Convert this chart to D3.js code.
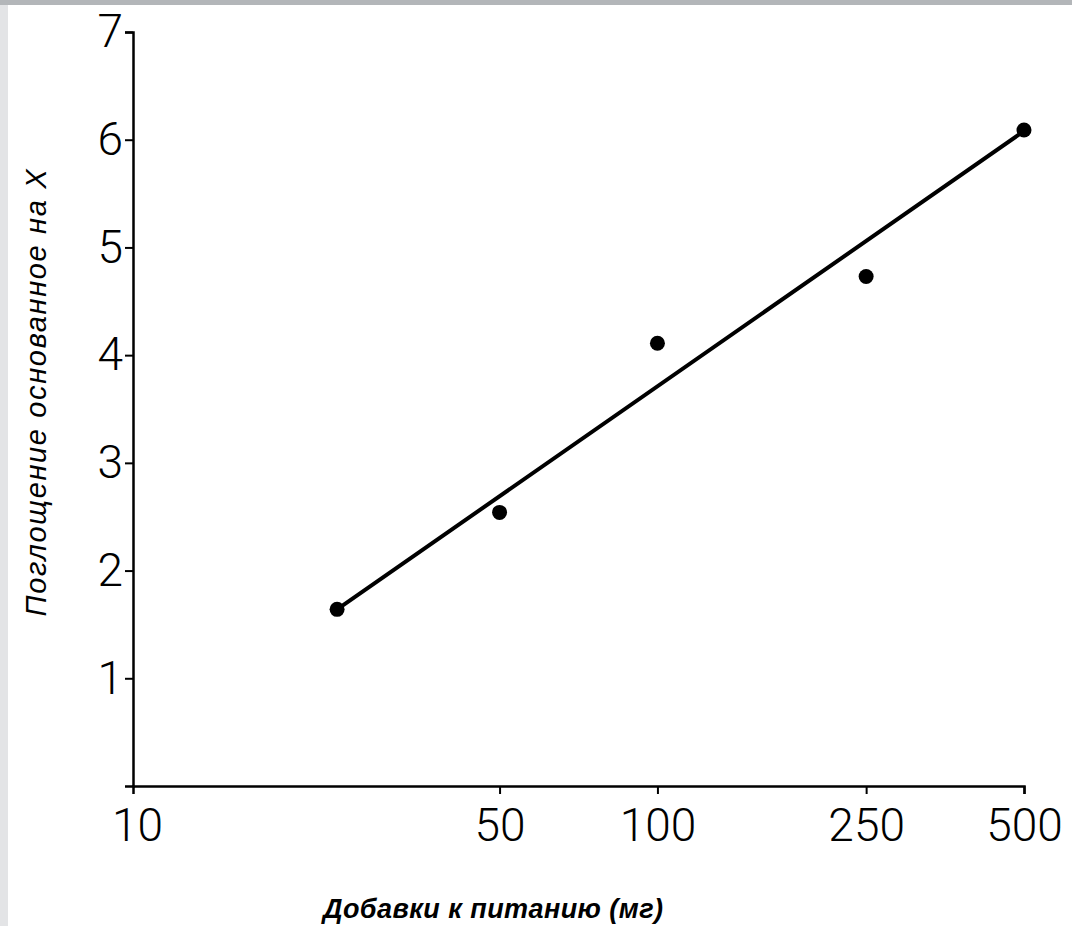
<!DOCTYPE html>
<html>
<head>
<meta charset="utf-8">
<script src="https://cdn.jsdelivr.net/npm/d3@7"></script>
<style>
  body { margin: 0; background: #fff; }
  .tick text { font-family: Roboto, "Liberation Sans", sans-serif; font-weight: 300; }
</style>
</head>
<body>
<script>
// data
const doseValues = [24.5, 50, 100, 250, 500];
const uptakeValues = [1.64, 2.54, 4.11, 4.73, 6.09];
const fitDose = [24.5, 500];
const fitUptake = [1.64, 6.08];
const xTickValues = [10, 50, 100, 250, 500];
const yTickValues = [1, 2, 3, 4, 5, 6, 7];

const width = 1072, height = 926;

const svg = d3.select("body").append("svg")
    .attr("width", width)
    .attr("height", height);

// scanned page edges
svg.append("rect").attr("x", 0).attr("y", 0).attr("width", 8).attr("height", height).attr("fill", "#e3e4e6");
svg.append("rect").attr("x", 0).attr("y", 0).attr("width", width).attr("height", 5).attr("fill", "#b3b6b9");

const x = d3.scaleLog().domain([10, 500]).range([133, 1024]);
const y = d3.scaleLinear().domain([0, 7]).range([786, 32]);

// x axis
const xAxis = svg.append("g")
    .attr("transform", "translate(0," + y(0) + ")")
    .call(d3.axisBottom(x)
        .tickValues(xTickValues)
        .tickFormat(d3.format("d"))
        .tickSizeOuter(0)
        .tickSize(8)
        .tickPadding(14));
xAxis.select(".domain").attr("stroke", "#000").attr("stroke-width", 2.5);
xAxis.selectAll(".tick line").attr("stroke", "#000").attr("stroke-width", 2);
xAxis.selectAll(".tick").filter(d => d === 10).select("line").remove();
xAxis.selectAll(".tick text")
    .attr("fill", "#000")
    .style("font-size", "46px")
    .attr("dx", d => d === 10 ? 4 : 0);

// y axis
const yAxis = svg.append("g")
    .attr("transform", "translate(" + x(10) + ",0)")
    .call(d3.axisLeft(y)
        .tickValues(yTickValues)
        .tickFormat(d3.format("d"))
        .tickSizeOuter(0)
        .tickSize(8)
        .tickPadding(2));
yAxis.select(".domain").attr("stroke", "#000").attr("stroke-width", 2.5);
yAxis.selectAll(".tick line").attr("stroke", "#000").attr("stroke-width", 2);
yAxis.selectAll(".tick text")
    .attr("fill", "#000")
    .style("font-size", "46px");

// fitted line
const line = d3.line()
    .x(d => x(d[0]))
    .y(d => y(d[1]));

svg.append("path")
    .datum(d3.zip(fitDose, fitUptake))
    .attr("d", line)
    .attr("fill", "none")
    .attr("stroke", "#000")
    .attr("stroke-width", 4)
    .attr("stroke-linecap", "round");

svg.selectAll(".dot")
    .data(d3.zip(doseValues, uptakeValues))
    .enter().append("circle")
    .attr("class", "dot")
    .attr("cx", d => x(d[0]))
    .attr("cy", d => y(d[1]))
    .attr("r", 7.5)
    .attr("fill", "#000");

// axis titles
svg.append("text")
    .attr("transform", "translate(46,393) rotate(-90)")
    .attr("text-anchor", "middle")
    .attr("font-family", "'Liberation Sans', Arial, sans-serif")
    .attr("font-style", "italic")
    .attr("font-size", 29)
    .attr("textLength", 447)
    .attr("lengthAdjust", "spacing")
    .text("Поглощение основанное на X");

svg.append("text")
    .attr("x", 493)
    .attr("y", 918)
    .attr("text-anchor", "middle")
    .attr("font-family", "'Liberation Sans', Arial, sans-serif")
    .attr("font-style", "italic")
    .attr("font-weight", "bold")
    .attr("font-size", 27)
    .attr("textLength", 340)
    .attr("lengthAdjust", "spacing")
    .text("Добавки к питанию (мг)");
</script>
</body>
</html>
